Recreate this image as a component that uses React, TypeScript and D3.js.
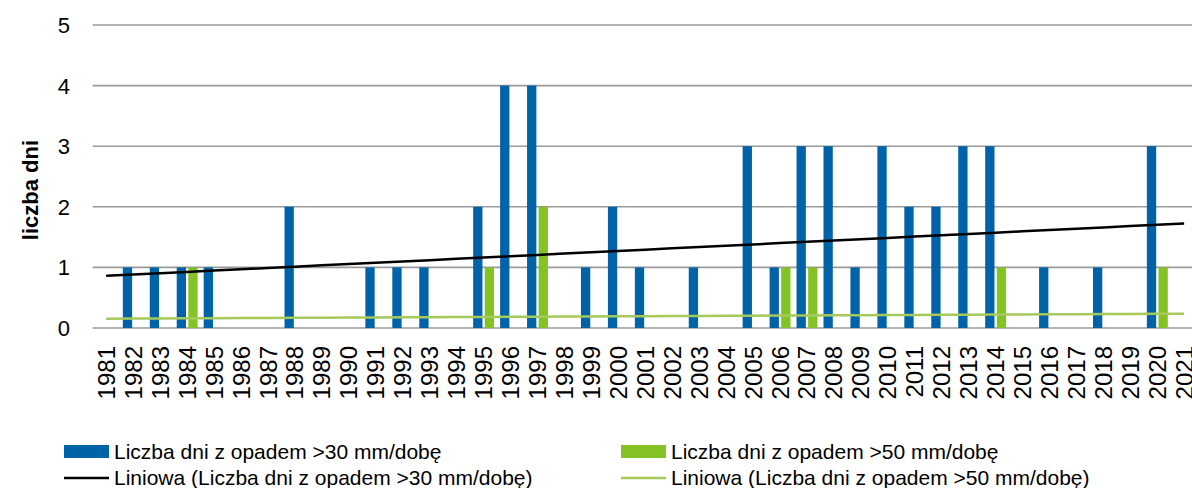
import React from "react";
import * as d3 from "d3";

const years: string[] = d3.range(1981, 2022).map(String);
const over30: number[] = [0, 1, 1, 1, 1, 0, 0, 2, 0, 0, 1, 1, 1, 0, 2, 4, 4, 0, 1, 2, 1, 0, 1, 0, 3, 1, 3, 3, 1, 3, 2, 2, 3, 3, 0, 1, 0, 1, 0, 3, 0];
const over50: number[] = [0, 0, 0, 1, 0, 0, 0, 0, 0, 0, 0, 0, 0, 0, 1, 0, 2, 0, 0, 0, 0, 0, 0, 0, 0, 1, 1, 0, 0, 0, 0, 0, 0, 1, 0, 0, 0, 0, 0, 1, 0];
const yTicks: number[] = [0, 1, 2, 3, 4, 5];
const seriesNames: string[] = [
  "Liczba dni z opadem >30 mm/dobę",
  "Liczba dni z opadem >50 mm/dobę",
  "Liniowa (Liczba dni z opadem >30 mm/dobę)",
  "Liniowa (Liczba dni z opadem >50 mm/dobę)",
];
const yTitle = "liczba dni";

const BLUE = "#0063A7";
const GREEN = "#84C225";
const LGREEN = "#A5C95A";
const FONT = "Arial, 'Liberation Sans', sans-serif";

function linreg(vals: number[]) {
  const n = vals.length;
  const xs = d3.range(n);
  const mx = d3.mean(xs)!;
  const my = d3.mean(vals)!;
  let sxy = 0, sxx = 0;
  xs.forEach((x, i) => { sxy += (x - mx) * (vals[i] - my); sxx += (x - mx) * (x - mx); });
  const b = sxy / sxx;
  const a = my - b * mx;
  return (i: number) => a + b * i;
}

export default function App() {
  const W = 1192, H = 488;
  const left = 92.7, right = 1197.6, top = 25, bottom = 328;
  const x = d3.scaleBand<string>().domain(years).range([left, right]).padding(0);
  const y = d3.scaleLinear().domain([0, 5]).range([bottom, top]);
  const bw = 9.3;
  const cx = (yr: string) => (x(yr) as number) + x.bandwidth() / 2;

  const t30 = linreg(over30);
  const t50 = linreg(over50);
  const line = d3.line<number>().x((_, i) => cx(years[i])).y((v) => y(v));
  const trend30 = years.map((_, i) => t30(i));
  const trend50 = years.map((_, i) => t50(i));

  return (
    <svg width={W} height={H} style={{ position: "absolute", left: 0, top: 0, background: "#fff" }} fontFamily={FONT}>
      <rect x={0} y={0} width={W} height={H} fill="#fff" />
      {yTicks.map((t) => (
        <g key={t}>
          <line x1={left} x2={right} y1={y(t)} y2={y(t)} stroke="#9a9a9a" strokeWidth={1.6} />
          <text x={70} y={y(t)} dy="0.36em" textAnchor="end" fontSize={22} fill="#000">{t}</text>
        </g>
      ))}
      <text transform={`translate(30,190) rotate(-90)`} textAnchor="middle" dy="0.36em" fontSize={22} fontWeight="bold" fill="#000">{yTitle}</text>
      {years.map((yr, i) => (
        <g key={yr}>
          {over30[i] > 0 && (
            <rect x={cx(yr) - 10.3} y={y(over30[i])} width={bw} height={y(0) - y(over30[i])} fill={BLUE} />
          )}
          {over50[i] > 0 && (
            <rect x={cx(yr) + 1.3} y={y(over50[i])} width={bw} height={y(0) - y(over50[i])} fill={GREEN} />
          )}
          <text transform={`translate(${cx(yr)},346) rotate(-90)`} textAnchor="end" dy="0.36em" fontSize={24} fill="#000">{yr}</text>
        </g>
      ))}
      <path d={line(trend50) || ""} fill="none" stroke={LGREEN} strokeWidth={2.5} />
      <path d={line(trend30) || ""} fill="none" stroke="#000" strokeWidth={2.5} />
      <g fontSize={21} fill="#000">
        <rect x={64} y={445} width={45} height={13} fill={BLUE} />
        <text x={114} y={451.5} dy="0.36em">{seriesNames[0]}</text>
        <rect x={621} y={445} width={45} height={13} fill={GREEN} />
        <text x={671} y={451.5} dy="0.36em">{seriesNames[1]}</text>
        <line x1={64} x2={109} y1={478} y2={478} stroke="#000" strokeWidth={2.5} />
        <text x={114} y={477} dy="0.36em">{seriesNames[2]}</text>
        <line x1={621} x2={666} y1={478} y2={478} stroke={LGREEN} strokeWidth={2.5} />
        <text x={671} y={477} dy="0.36em">{seriesNames[3]}</text>
      </g>
    </svg>
  );
}
